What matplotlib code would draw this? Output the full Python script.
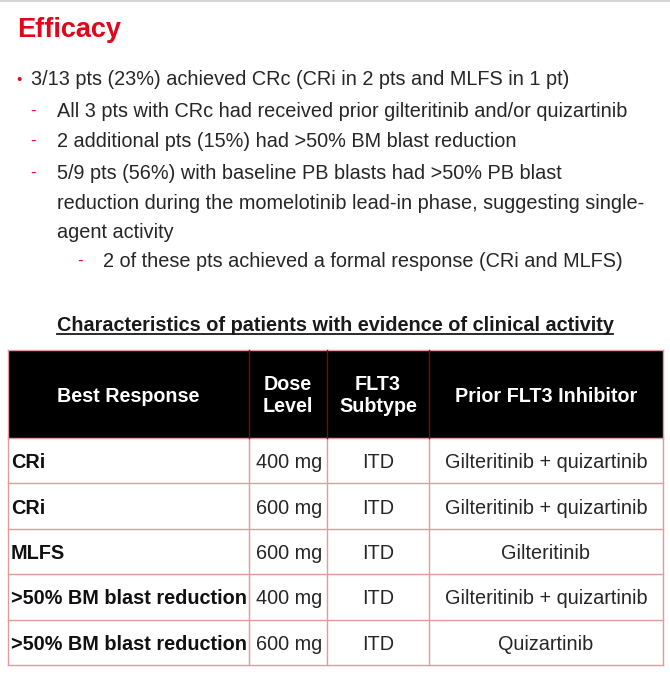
import matplotlib
matplotlib.use("Agg")
import matplotlib.pyplot as plt
from matplotlib.patches import Rectangle

plt.rcParams['font.family'] = ['Liberation Sans', 'DejaVu Sans']

RED = '#e2061b'
TXT = '#262626'

# ---- slide text ----
title = "Efficacy"
bullet_lines = [
    (0, "3/13 pts (23%) achieved CRc (CRi in 2 pts and MLFS in 1 pt)"),
    (1, "All 3 pts with CRc had received prior gilteritinib and/or quizartinib"),
    (1, "2 additional pts (15%) had >50% BM blast reduction"),
    (1, "5/9 pts (56%) with baseline PB blasts had >50% PB blast"),
    (-1, "reduction during the momelotinib lead-in phase, suggesting single-"),
    (-1, "agent activity"),
    (2, "2 of these pts achieved a formal response (CRi and MLFS)"),
]
line_y = [78, 110, 140, 172, 202, 231, 260]

table_title = "Characteristics of patients with evidence of clinical activity"
header = ["Best Response", "Dose\nLevel", "FLT3\nSubtype", "Prior FLT3 Inhibitor"]
best_response = ["CRi", "CRi", "MLFS", ">50% BM blast reduction", ">50% BM blast reduction"]
dose_level = ["400 mg", "600 mg", "600 mg", "400 mg", "600 mg"]
flt3_subtype = ["ITD", "ITD", "ITD", "ITD", "ITD"]
prior_inhibitor = ["Gilteritinib + quizartinib", "Gilteritinib + quizartinib", "Gilteritinib",
                   "Gilteritinib + quizartinib", "Quizartinib"]

# ---- layout (pixels) ----
W, H = 670, 680
col_x = [8, 249, 327, 429, 663]
head_top, head_bot = 350, 438
row_h = 45.4
FS = 14.3

fig = plt.figure(figsize=(W / 100, H / 100), dpi=100)
ax = fig.add_axes([0, 0, 1, 1])
ax.set_xlim(0, W)
ax.set_ylim(H, 0)
ax.axis('off')

# faint frame line on top from the screenshot
ax.add_patch(Rectangle((0, 0), W, 2, color='#d6d6d6', lw=0))

ax.text(17, 37, title, color=RED, fontsize=19.5, fontweight='bold', va='baseline')

indent = {0: (19, 31), 1: (33, 57), -1: (None, 57), 2: (80, 103)}
for (lvl, s), y in zip(bullet_lines, line_y):
    mx, tx = indent[lvl]
    if lvl == 0:
        ax.text(mx, y + 6, "\u2022", color=RED, fontsize=11, ha='center', va='baseline')
    elif lvl > 0:
        ax.text(mx, y + 6, "-", color=RED, fontsize=12, ha='center', va='baseline')
    ax.text(tx, y + 7, s, color=TXT, fontsize=FS, va='baseline')

# table title, underlined
tt = ax.text(335, 331, table_title, color='#1a1a1a', fontsize=FS, fontweight='bold',
             ha='center', va='baseline')
fig.canvas.draw()
bb = tt.get_window_extent().transformed(ax.transData.inverted())
ax.plot([min(bb.x0, bb.x1), max(bb.x0, bb.x1)], [334, 334], color='#1a1a1a', lw=1.3)

# header
ax.add_patch(Rectangle((col_x[0], head_top), col_x[-1] - col_x[0], head_bot - head_top,
                       color='black', lw=0))
for i, h in enumerate(header):
    cx = (col_x[i] + col_x[i + 1]) / 2
    ax.text(cx, (head_top + head_bot) / 2 + 2, h, color='white', fontsize=14.2,
            fontweight='bold', ha='center', va='center', linespacing=1.2)

# body
n = len(best_response)
rows = list(zip(best_response, dose_level, flt3_subtype, prior_inhibitor))
for r, (a, b, c, d) in enumerate(rows):
    yc = head_bot + row_h * (r + 0.5) + 2
    ax.text(col_x[0] + 3, yc, a, color='#111111', fontsize=FS, fontweight='bold',
            ha='left', va='center')
    ax.text(col_x[1] + 7, yc, b, color=TXT, fontsize=FS, ha='left', va='center')
    ax.text((col_x[2] + col_x[3]) / 2, yc, c, color=TXT, fontsize=FS,
            ha='center', va='center')
    ax.text((col_x[3] + col_x[4]) / 2, yc, d, color=TXT, fontsize=FS,
            ha='center', va='center')

# grid lines
line_col = '#e29a9a'
bottom = head_bot + row_h * n
for r in range(n + 1):
    y = head_bot + row_h * r
    ax.plot([col_x[0], col_x[-1]], [y, y], color=line_col, lw=1.0)
ax.plot([col_x[0], col_x[-1]], [head_top, head_top], color=line_col, lw=1.0)
for x in col_x:
    ax.plot([x, x], [head_bot, bottom], color=line_col, lw=1.0)
    if x in (col_x[0], col_x[-1]):
        ax.plot([x, x], [head_top, head_bot], color=line_col, lw=1.0)
    else:
        ax.plot([x, x], [head_top, head_bot], color='#6e1010', lw=1.0)

fig.savefig("out.png", dpi=100, facecolor='white')
